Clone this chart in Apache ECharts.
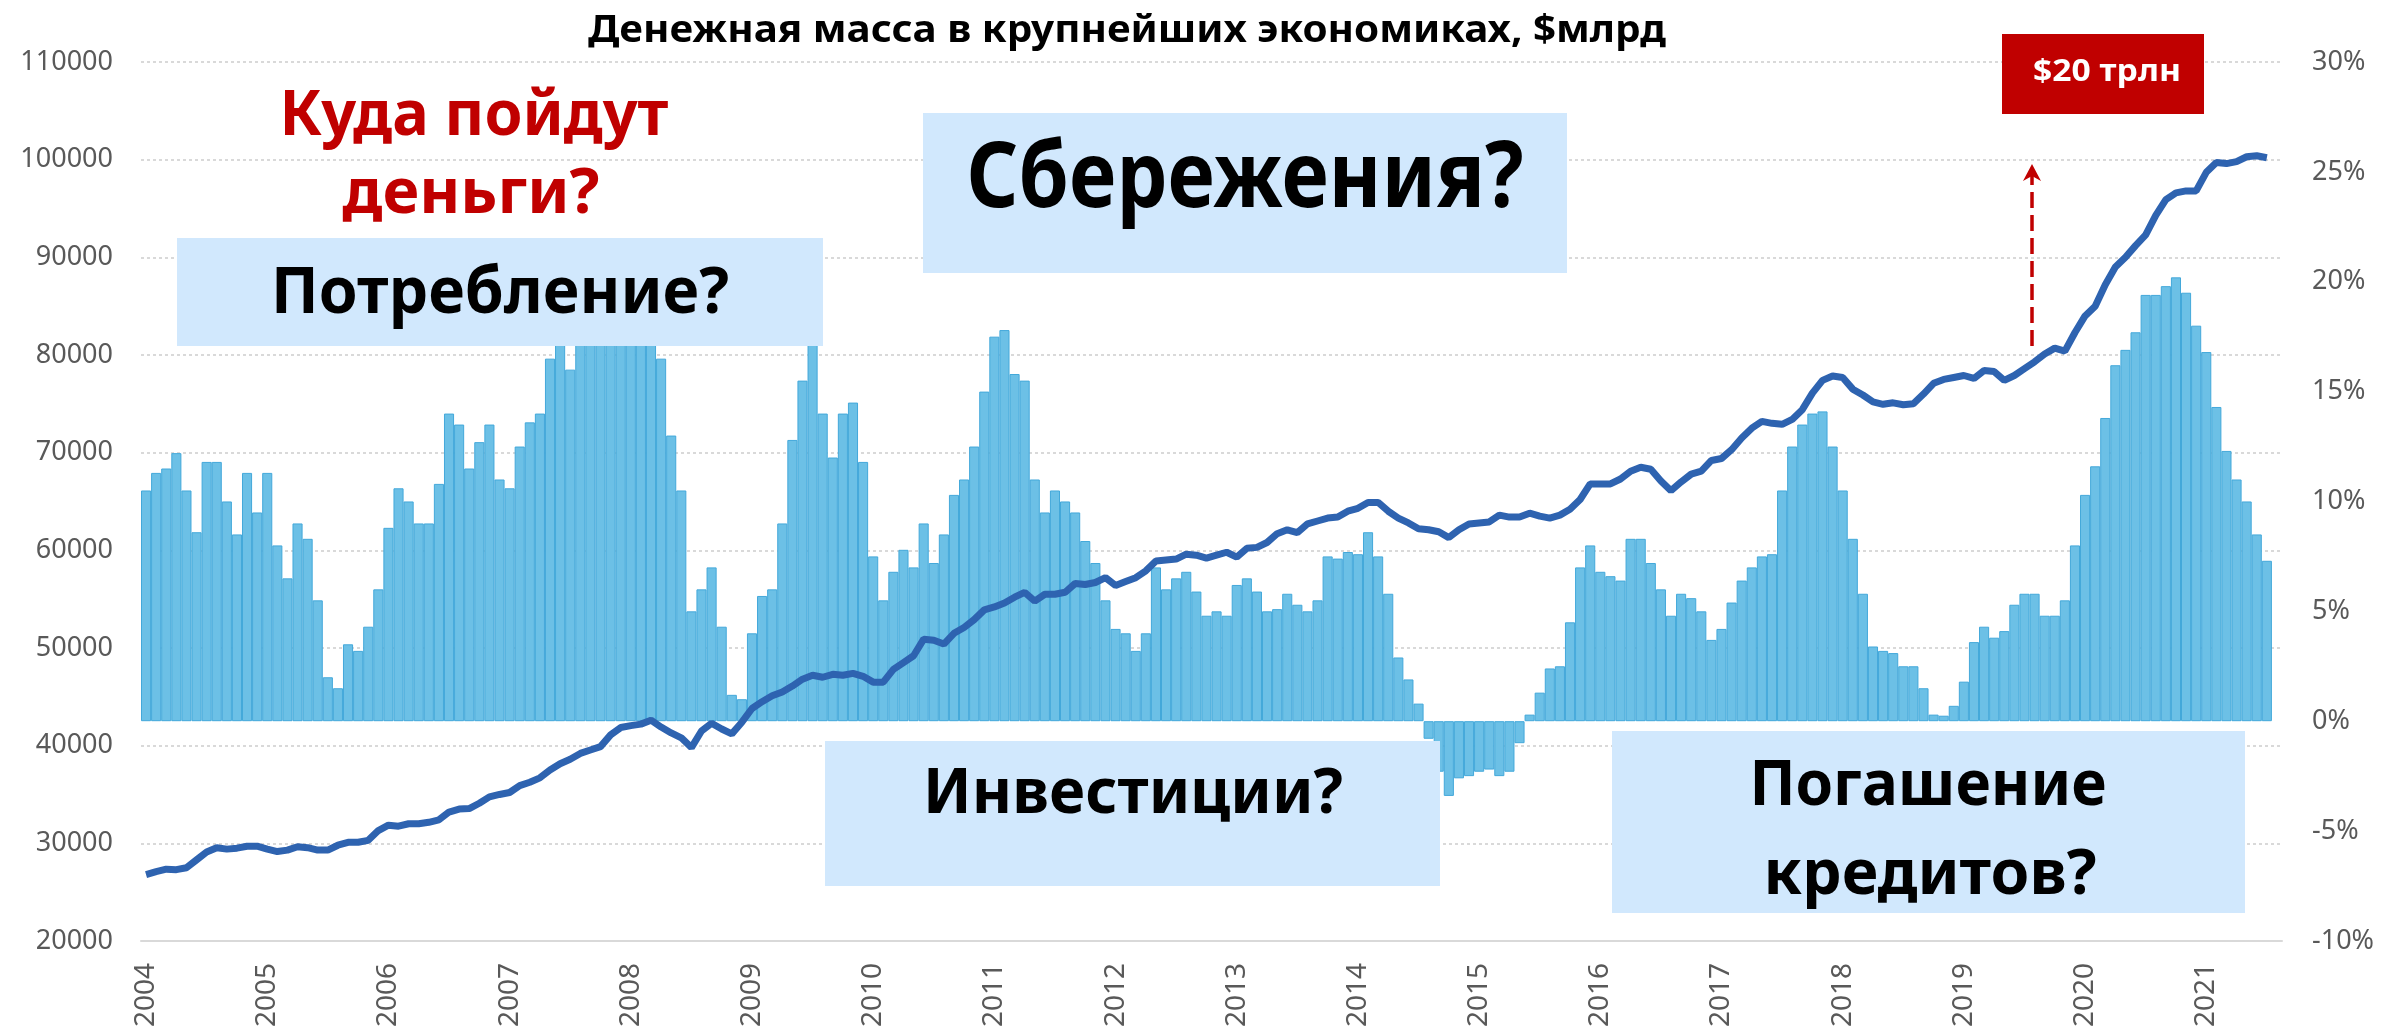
<!DOCTYPE html>
<html>
<head>
<meta charset="utf-8">
<script src="https://cdn.jsdelivr.net/npm/echarts@6/dist/echarts.min.js"></script>
<style>
html, body { margin: 0; padding: 0; background: #fff; }
#chart { width: 2381px; height: 1030px; }
</style>
</head>
<body>
<div id="chart"></div>
<script>
// monthly values, Jan 2004 .. Jul 2021
var growthPct = [
  10.5, 11.3, 11.5, 12.2, 10.5, 8.6, 11.8, 11.8, 10, 8.5, 11.3, 9.5,      // 2004
  11.3, 8, 6.5, 9, 8.3, 5.5, 2, 1.5, 3.5, 3.2, 4.3, 6,                    // 2005
  8.8, 10.6, 10, 9, 9, 10.8, 14, 13.5, 11.5, 12.7, 13.5, 11,              // 2006
  10.6, 12.5, 13.6, 14, 16.5, 17.8, 16, 17.5, 18.2, 19, 20, 21.5,         // 2007
  20, 20, 19.5, 16.5, 13, 10.5, 5, 6, 7, 4.3, 1.2, 1,                     // 2008
  4, 5.7, 6, 9, 12.8, 15.5, 19, 14, 12, 14, 14.5, 11.8,                   // 2009
  7.5, 5.5, 6.8, 7.8, 7, 9, 7.2, 8.5, 10.3, 11, 12.5, 15,                 // 2010
  17.5, 17.8, 15.8, 15.5, 11, 9.5, 10.5, 10, 9.5, 8.2, 7.2, 5.5,          // 2011
  4.2, 4, 3.2, 4, 7, 6, 6.5, 6.8, 5.9, 4.8, 5, 4.8,                       // 2012
  6.2, 6.5, 5.9, 5, 5.1, 5.8, 5.3, 5, 5.5, 7.5, 7.4, 7.7,                 // 2013
  7.6, 8.6, 7.5, 5.8, 2.9, 1.9, 0.8, -0.8, -2.3, -3.4, -2.6, -2.5,        // 2014
  -2.3, -2.2, -2.5, -2.3, -1, 0.3, 1.3, 2.4, 2.5, 4.5, 7, 8,              // 2015
  6.8, 6.6, 6.4, 8.3, 8.3, 7.2, 6, 4.8, 5.8, 5.6, 5, 3.7,                 // 2016
  4.2, 5.4, 6.4, 7, 7.5, 7.6, 10.5, 12.5, 13.5, 14, 14.1, 12.5,           // 2017
  10.5, 8.3, 5.8, 3.4, 3.2, 3.1, 2.5, 2.5, 1.5, 0.3, 0.25, 0.7,           // 2018
  1.8, 3.6, 4.3, 3.8, 4.1, 5.3, 5.8, 5.8, 4.8, 4.8, 5.5, 8,               // 2019
  10.3, 11.6, 13.8, 16.2, 16.9, 17.7, 19.4, 19.4, 19.8, 20.2, 19.5, 18,   // 2020
  16.8, 14.3, 12.3, 11, 10, 8.5, 7.3                                      // 2021
];

var moneyStock = [
  26800, 27100, 27350, 27300, 27500, 28300, 29100, 29550, 29400, 29500, 29700, 29700,
  29400, 29150, 29300, 29650, 29550, 29300, 29300, 29800, 30100, 30100, 30300, 31300,
  31850, 31750, 32000, 32000, 32150, 32400, 33200, 33500, 33550, 34100, 34750, 35000,
  35200, 35900, 36250, 36700, 37500, 38150, 38600, 39200, 39550, 39900, 41100, 41850,
  42050, 42200, 42600, 41900, 41300, 40800, 39800, 41500, 42300, 41700, 41200, 42400,
  43800, 44500, 45100, 45500, 46100, 46800, 47200, 47000, 47300, 47200, 47400, 47100,
  46500, 46500, 47800, 48500, 49200, 50900, 50800, 50400, 51500, 52100, 52900, 53900,
  54200, 54600, 55200, 55700, 54800, 55500, 55500, 55700, 56600, 56500, 56700, 57200,
  56400, 56800, 57200, 57900, 58900, 59000, 59100, 59600, 59500, 59200, 59500, 59800,
  59300, 60200, 60300, 60800, 61700, 62100, 61800, 62700, 63000, 63300, 63400, 64000,
  64300, 64900, 64900, 64000, 63300, 62800, 62200, 62100, 61900, 61300, 62100, 62700,
  62800, 62900, 63600, 63400, 63400, 63800, 63500, 63300, 63600, 64200, 65200, 66800,
  66800, 66800, 67300, 68100, 68500, 68300, 67100, 66100, 67000, 67800, 68100, 69200,
  69400, 70300, 71500, 72500, 73200, 73000, 72900, 73400, 74400, 76100, 77400, 77850,
  77700, 76500, 75900, 75200, 74950, 75100, 74900, 75000, 76000, 77100, 77500, 77700,
  77900, 77600, 78400, 78300, 77400, 77900, 78600, 79300, 80100, 80700, 80400, 82300,
  84000, 85000, 87200, 89000, 90000, 91200, 92300, 94300, 95900, 96600, 96800, 96800,
  98700, 99700, 99600, 99800, 100300, 100400, 100200
];

// month categories, one spare month at the end of the axis
var months = [];
for (var y = 2004; y <= 2021; y++) {
  for (var mo = 1; mo <= 12; mo++) {
    if (y === 2021 && mo > 8) break;
    months.push(y + '-' + (mo < 10 ? '0' + mo : mo));
  }
}

var FONT = '"Noto Sans", "DejaVu Sans", sans-serif';
var GREY = '#595959';

var boxes = [
  { x: 177, y: 238, w: 646, h: 108, fill: '#D1E8FD' },
  { x: 923, y: 113, w: 644, h: 160, fill: '#D1E8FD' },
  { x: 825, y: 741, w: 615, h: 145, fill: '#D1E8FD' },
  { x: 1612, y: 731, w: 633, h: 182, fill: '#D1E8FD' },
  { x: 2002, y: 34, w: 202, h: 80, fill: '#C00000' }
];

var labels = [
  { text: 'Денежная масса в крупнейших экономиках, $млрд', cx: 1127, cy: 31.5, size: 38, width: 1078, color: '#000' },
  { text: 'Куда пойдут', cx: 474, cy: 117, size: 62, width: 389, color: '#C00000' },
  { text: 'деньги?', cx: 471, cy: 195, size: 62, width: 257, color: '#C00000' },
  { text: 'Потребление?', cx: 500, cy: 295, size: 64, width: 458, color: '#000' },
  { text: 'Сбережения?', cx: 1245, cy: 181, size: 92, width: 557, color: '#000' },
  { text: 'Инвестиции?', cx: 1133, cy: 795, size: 63, width: 420, color: '#000' },
  { text: 'Погашение', cx: 1928, cy: 787, size: 63, width: 357, color: '#000' },
  { text: 'кредитов?', cx: 1930, cy: 876, size: 63, width: 333, color: '#000' },
  { text: '$20 трлн', cx: 2107, cy: 72, size: 31, width: 148, color: '#fff' }
];

var measureCtx = document.createElement('canvas').getContext('2d');

function fitText(t) {
  measureCtx.font = 'bold ' + t.size + 'px ' + FONT;
  var w = measureCtx.measureText(t.text).width;
  return {
    type: 'text', x: t.cx, y: t.cy, scaleX: t.width / w, z: 120,
    style: {
      text: t.text, fill: t.color, fontSize: t.size, fontWeight: 'bold', fontFamily: FONT,
      align: 'center', verticalAlign: 'middle'
    }
  };
}

var graphics = [];
boxes.forEach(function (b) {
  graphics.push({ type: 'rect', z: 110, shape: { x: b.x, y: b.y, width: b.w, height: b.h }, style: { fill: b.fill } });
});
labels.forEach(function (t) { graphics.push(fitText(t)); });
// dashed arrow up to the $20 trln box
graphics.push({
  type: 'line', z: 110,
  shape: { x1: 2032, y1: 346, x2: 2032, y2: 176 },
  style: { stroke: '#C00000', lineWidth: 3.5, lineDash: [16, 7] }
});
graphics.push({
  type: 'polygon', z: 110,
  shape: { points: [[2032, 164], [2041, 181], [2032, 176], [2023, 181]] },
  style: { fill: '#C00000' }
});

var chart = echarts.init(document.getElementById('chart'));
chart.setOption({
  animation: false,
  backgroundColor: '#fff',
  grid: { left: 141, right: 99, top: 62, bottom: 87, containLabel: false },
  xAxis: {
    type: 'category',
    data: months,
    boundaryGap: true,
    axisLine: { show: true, onZero: false, lineStyle: { color: '#D9D9D9', width: 2 } },
    axisTick: { show: false },
    axisLabel: {
      rotate: 90,
      margin: 22,
      color: GREY,
      fontSize: 28,
      fontFamily: FONT,
      interval: function (index) { return index % 12 === 0; },
      formatter: function (v) { return v.slice(0, 4); }
    },
    splitLine: { show: false }
  },
  yAxis: [
    {
      type: 'value', position: 'left',
      min: 20000, max: 110000, interval: 10000,
      axisLine: { show: false }, axisTick: { show: false },
      axisLabel: {
        color: GREY, fontSize: 27, fontFamily: FONT, margin: 28,
        formatter: function (v) { return String(v); }
      },
      splitLine: { lineStyle: { color: '#D9D9D9', width: 2, type: [3, 3] } }
    },
    {
      type: 'value', position: 'right',
      min: -10, max: 30, interval: 5,
      axisLine: { show: false }, axisTick: { show: false },
      axisLabel: { color: GREY, fontSize: 27, fontFamily: FONT, margin: 30, formatter: '{value}%' },
      splitLine: { show: false }
    }
  ],
  series: [
    {
      type: 'bar',
      yAxisIndex: 1,
      data: growthPct,
      barCategoryGap: '0%',
      itemStyle: { color: '#6CC0E6', borderColor: '#43A8DA', borderWidth: 1 },
      z: 2
    },
    {
      type: 'line',
      yAxisIndex: 0,
      data: moneyStock,
      symbol: 'none',
      lineStyle: { color: '#2E63B0', width: 7 },
      z: 3
    }
  ],
  graphic: { elements: graphics }
});
</script>
</body>
</html>
